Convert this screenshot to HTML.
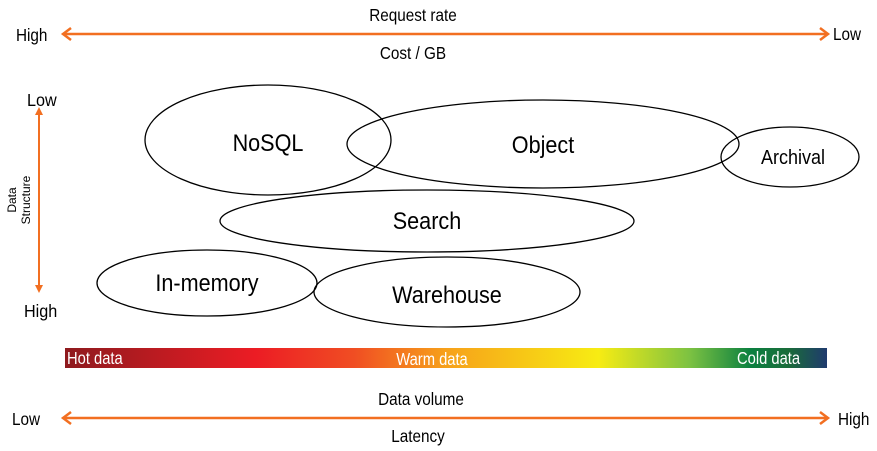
<!DOCTYPE html>
<html><head><meta charset="utf-8"><style>
html,body{margin:0;padding:0;background:#fff;}
svg{display:block;}
text{font-family:"Liberation Sans",Arial,sans-serif;}
</style></head><body>
<svg width="877" height="451" viewBox="0 0 877 451" xmlns="http://www.w3.org/2000/svg">
<defs>
<linearGradient id="g" x1="0" x2="1" y1="0" y2="0">
<stop offset="0" stop-color="#8e1a1e"/>
<stop offset="0.25" stop-color="#ec1c24"/>
<stop offset="0.38" stop-color="#f04e23"/>
<stop offset="0.5" stop-color="#f7a11a"/>
<stop offset="0.7" stop-color="#f7ec13"/>
<stop offset="0.82" stop-color="#7cc242"/>
<stop offset="0.9" stop-color="#0b8040"/>
<stop offset="0.95" stop-color="#1a6b3a"/>
<stop offset="1" stop-color="#1f3a6e"/>
</linearGradient>
</defs>
<g fill="#000" font-size="18">
<text x="413" y="21" text-anchor="middle" transform="translate(413 0) scale(0.85 1) translate(-413 0)">Request rate</text>
<text x="413" y="59" text-anchor="middle" transform="translate(413 0) scale(0.85 1) translate(-413 0)">Cost / GB</text>
<text x="16" y="41" transform="translate(16 0) scale(0.85 1) translate(-16 0)">High</text>
<text x="833" y="40" transform="translate(833 0) scale(0.85 1) translate(-833 0)">Low</text>
<text x="421" y="405" text-anchor="middle" transform="translate(421 0) scale(0.85 1) translate(-421 0)">Data volume</text>
<text x="418" y="442" text-anchor="middle" transform="translate(418 0) scale(0.85 1) translate(-418 0)">Latency</text>
<text x="12" y="425" transform="translate(12 0) scale(0.85 1) translate(-12 0)">Low</text>
<text x="838" y="425" transform="translate(838 0) scale(0.85 1) translate(-838 0)">High</text>
<text x="27" y="106" transform="translate(27 0) scale(0.9 1) translate(-27 0)">Low</text>
<text x="24" y="317" transform="translate(24 0) scale(0.9 1) translate(-24 0)">High</text>
</g>
<g font-size="12" fill="#000">
<text transform="translate(16 200) rotate(-90)" text-anchor="middle">Data</text>
<text transform="translate(30 200) rotate(-90)" text-anchor="middle">Structure</text>
</g>
<g stroke="#f26f21" stroke-width="2.5" fill="none">
<line x1="64" y1="34" x2="827" y2="34"/>
<polyline points="71,28 63,34 71,40"/>
<polyline points="820,28 828,34 820,40"/>
<line x1="64" y1="418" x2="827" y2="418"/>
<polyline points="71,412 63,418 71,424"/>
<polyline points="820,412 828,418 820,424"/>
<line x1="39" y1="110" x2="39" y2="290" stroke-width="2"/>
</g>
<polygon points="35,115 39,107 43,115" fill="#f26f21"/>
<polygon points="35,285 39,293 43,285" fill="#f26f21"/>
<rect x="65" y="348" width="762" height="20" fill="url(#g)"/>
<g font-size="18" fill="#fff">
<text x="67" y="364" transform="translate(67 0) scale(0.82 1) translate(-67 0)">Hot data</text>
<text x="432" y="365" text-anchor="middle" transform="translate(432 0) scale(0.82 1) translate(-432 0)">Warm data</text>
<text x="737" y="364" transform="translate(737 0) scale(0.82 1) translate(-737 0)">Cold data</text>
</g>
<g fill="none" stroke="#000" stroke-width="1.3">
<ellipse cx="268" cy="140" rx="123" ry="55"/>
<ellipse cx="543" cy="144" rx="196" ry="44"/>
<ellipse cx="790" cy="157" rx="69" ry="30"/>
<ellipse cx="427" cy="221" rx="207" ry="31"/>
<ellipse cx="207" cy="283" rx="110" ry="33"/>
<ellipse cx="447" cy="292" rx="133" ry="35"/>
</g>
<g font-size="24" fill="#000" text-anchor="middle">
<text x="268" y="151" transform="translate(268 0) scale(0.9 1) translate(-268 0)">NoSQL</text>
<text x="543" y="153" transform="translate(543 0) scale(0.9 1) translate(-543 0)">Object</text>
<text x="793" y="164" font-size="20" transform="translate(793 0) scale(0.9 1) translate(-793 0)">Archival</text>
<text x="427" y="229" transform="translate(427 0) scale(0.9 1) translate(-427 0)">Search</text>
<text x="207" y="291" transform="translate(207 0) scale(0.9 1) translate(-207 0)">In-memory</text>
<text x="447" y="303" transform="translate(447 0) scale(0.9 1) translate(-447 0)">Warehouse</text>
</g>
</svg>
</body></html>
